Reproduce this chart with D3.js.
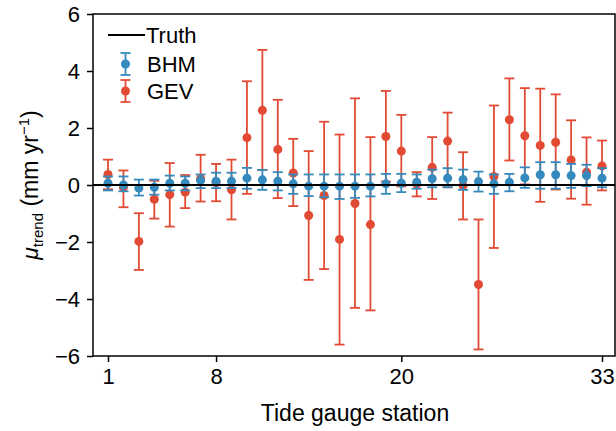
<!DOCTYPE html>
<html>
<head>
<meta charset="utf-8">
<script src="https://cdn.jsdelivr.net/npm/d3@7"></script>
<style>
  body { margin: 0; background: #fff; }
  text { font-family: "Liberation Sans", Arial, sans-serif; fill: #000; }
</style>
</head>
<body>
<div class="chart"></div>
<script>
// station numbers 1..33
const stations = [1,2,3,4,5,6,7,8,9,10,11,12,13,14,15,16,17,18,19,20,21,22,23,24,25,26,27,28,29,30,31,32,33];

// GEV estimate with lower / upper bounds
const gevMean = [0.37,-0.08,-1.98,-0.50,-0.34,-0.25,0.22,0.08,-0.17,1.66,2.62,1.25,0.42,-1.07,-0.37,-1.91,-0.65,-1.39,1.70,1.19,0.03,0.62,1.54,-0.02,-3.49,0.30,2.29,1.73,1.39,1.50,0.88,0.45,0.67];
const gevLow  = [-0.15,-0.78,-2.98,-1.18,-1.46,-0.81,-0.58,-0.57,-1.21,-0.31,0.53,-0.46,-0.74,-3.33,-2.95,-5.60,-4.31,-4.40,0.12,-0.05,-0.40,-0.49,-0.08,-1.21,-5.77,-2.21,0.86,0.02,-0.59,-0.16,-0.48,-0.69,-0.19];
const gevHigh = [0.89,0.51,-0.99,0.15,0.77,0.35,1.06,0.74,0.89,3.64,4.74,2.99,1.62,1.19,2.22,1.77,3.04,1.68,3.30,2.46,0.45,1.68,2.54,1.15,-1.21,2.79,3.74,3.40,3.38,3.18,2.27,1.67,1.56];

// BHM estimate with lower / upper bounds
const bhmMean = [0.06,0.00,-0.11,-0.08,0.06,0.06,0.16,0.13,0.13,0.24,0.18,0.13,0.04,-0.04,-0.04,-0.04,-0.04,-0.04,0.04,0.06,0.10,0.22,0.24,0.19,0.12,0.04,0.10,0.25,0.36,0.36,0.33,0.33,0.24];
const bhmLow  = [-0.19,-0.22,-0.37,-0.34,-0.19,-0.19,-0.11,-0.11,-0.11,-0.13,-0.17,-0.19,-0.31,-0.39,-0.43,-0.49,-0.45,-0.40,-0.31,-0.25,-0.13,-0.08,-0.08,-0.17,-0.23,-0.31,-0.22,-0.10,-0.13,-0.13,-0.10,-0.04,-0.08];
const bhmHigh = [0.30,0.30,0.19,0.19,0.33,0.30,0.37,0.43,0.43,0.60,0.53,0.45,0.37,0.37,0.37,0.37,0.37,0.37,0.39,0.39,0.37,0.54,0.59,0.54,0.47,0.37,0.39,0.62,0.80,0.80,0.74,0.71,0.59];

const truthValue = 0;
const xTicks = [1, 8, 20, 33];
const yTicks = [-6, -4, -2, 0, 2, 4, 6];

const red = '#E24A33', blue = '#348ABD';

const W = 616, H = 431;
const plot = {left: 93, right: 615, top: 14, bottom: 356};

const svg = d3.select('.chart').append('svg')
	.attr('width', W)
	.attr('height', H);

const xScale = d3.scaleLinear()
	.domain([1, 33])
	.range([108, 602]);

const yScale = d3.scaleLinear()
	.domain([-6, 6])
	.range([plot.bottom, plot.top]);

const xAxis = d3.axisBottom(xScale)
	.tickValues(xTicks)
	.tickSize(6)
	.tickPadding(6);

const yAxis = d3.axisLeft(yScale)
	.tickValues(yTicks)
	.tickSize(6)
	.tickPadding(7)
	.tickFormat(d => d < 0 ? '\u2212' + Math.abs(d) : d);

const clip = svg.append('clipPath').attr('id', 'clip')
	.append('rect')
	.attr('x', plot.left).attr('y', plot.top)
	.attr('width', plot.right - plot.left).attr('height', plot.bottom - plot.top);

const g = svg.append('g').attr('clip-path', 'url(#clip)');

function errorbars(cls, color, mean, low, high) {
	const grp = g.append('g').attr('class', cls);
	const rows = stations.map((s, i) => ({s, m: mean[i], lo: low[i], hi: high[i]}));
	grp.selectAll('.bar').data(rows).enter().append('line')
		.attr('x1', d => xScale(d.s)).attr('x2', d => xScale(d.s))
		.attr('y1', d => yScale(d.lo)).attr('y2', d => yScale(d.hi))
		.attr('stroke', color).attr('stroke-width', 1.8);
	['lo', 'hi'].forEach(k => {
		grp.selectAll('.cap-' + k).data(rows).enter().append('line')
			.attr('x1', d => xScale(d.s) - 5).attr('x2', d => xScale(d.s) + 5)
			.attr('y1', d => yScale(d[k])).attr('y2', d => yScale(d[k]))
			.attr('stroke', color).attr('stroke-width', 1.8);
	});
	grp.selectAll('circle').data(rows).enter().append('circle')
		.attr('cx', d => xScale(d.s)).attr('cy', d => yScale(d.m))
		.attr('r', 4.5).attr('fill', color);
}

errorbars('gev', red, gevMean, gevLow, gevHigh);
errorbars('bhm', blue, bhmMean, bhmLow, bhmHigh);

// truth line on top
g.append('line')
	.attr('x1', plot.left).attr('x2', plot.right)
	.attr('y1', yScale(truthValue)).attr('y2', yScale(truthValue))
	.attr('stroke', '#000').attr('stroke-width', 1.8);

// spines
svg.append('rect')
	.attr('x', plot.left).attr('y', plot.top)
	.attr('width', plot.right - plot.left).attr('height', plot.bottom - plot.top)
	.attr('fill', 'none').attr('stroke', '#000').attr('stroke-width', 1.5);

const gx = svg.append('g')
	.attr('class', 'axis x-axis')
	.attr('transform', `translate(0, ${plot.bottom})`)
	.call(xAxis);

const gy = svg.append('g')
	.attr('class', 'axis y-axis')
	.attr('transform', `translate(${plot.left}, 0)`)
	.call(yAxis);

[gx, gy].forEach(a => {
	a.select('.domain').remove();
	a.selectAll('.tick line').attr('stroke', '#000').attr('stroke-width', 1.5);
	a.selectAll('.tick text').attr('font-size', 22).attr('fill', '#000')
		.style('font-family', '"Liberation Sans", Arial, sans-serif');
});

// axis labels
svg.append('text')
	.attr('x', 355).attr('y', 421)
	.attr('text-anchor', 'middle')
	.attr('font-size', 23)
	.text('Tide gauge station');

const yl = svg.append('text')
	.attr('transform', 'translate(38, 185) rotate(-90)')
	.attr('text-anchor', 'middle')
	.attr('font-size', 23);
yl.append('tspan').attr('font-style', 'italic').text('\u03BC');
yl.append('tspan').attr('font-size', 15).attr('dy', 5).text('trend');
yl.append('tspan').attr('dy', -5).text(' (mm yr');
yl.append('tspan').attr('font-size', 15).attr('dy', -9).text('\u22121');
yl.append('tspan').attr('dy', 9).text(')');

// legend
const legend = svg.append('g');
legend.append('line')
	.attr('x1', 108).attr('x2', 145).attr('y1', 35).attr('y2', 35)
	.attr('stroke', '#000').attr('stroke-width', 1.8);
legend.append('text').attr('x', 146).attr('y', 43).attr('font-size', 22).text('Truth');

[[blue, 'BHM', 64], [red, 'GEV', 91]].forEach(([c, label, cy]) => {
	const cx = 125.5;
	legend.append('line').attr('x1', cx).attr('x2', cx).attr('y1', cy - 11).attr('y2', cy + 11)
		.attr('stroke', c).attr('stroke-width', 1.8);
	[cy - 11, cy + 11].forEach(yy => legend.append('line')
		.attr('x1', cx - 5).attr('x2', cx + 5).attr('y1', yy).attr('y2', yy)
		.attr('stroke', c).attr('stroke-width', 1.8));
	legend.append('circle').attr('cx', cx).attr('cy', cy).attr('r', 4.5).attr('fill', c);
	legend.append('text').attr('x', 147).attr('y', cy + 8).attr('font-size', 22).text(label);
});
</script>
</body>
</html>
